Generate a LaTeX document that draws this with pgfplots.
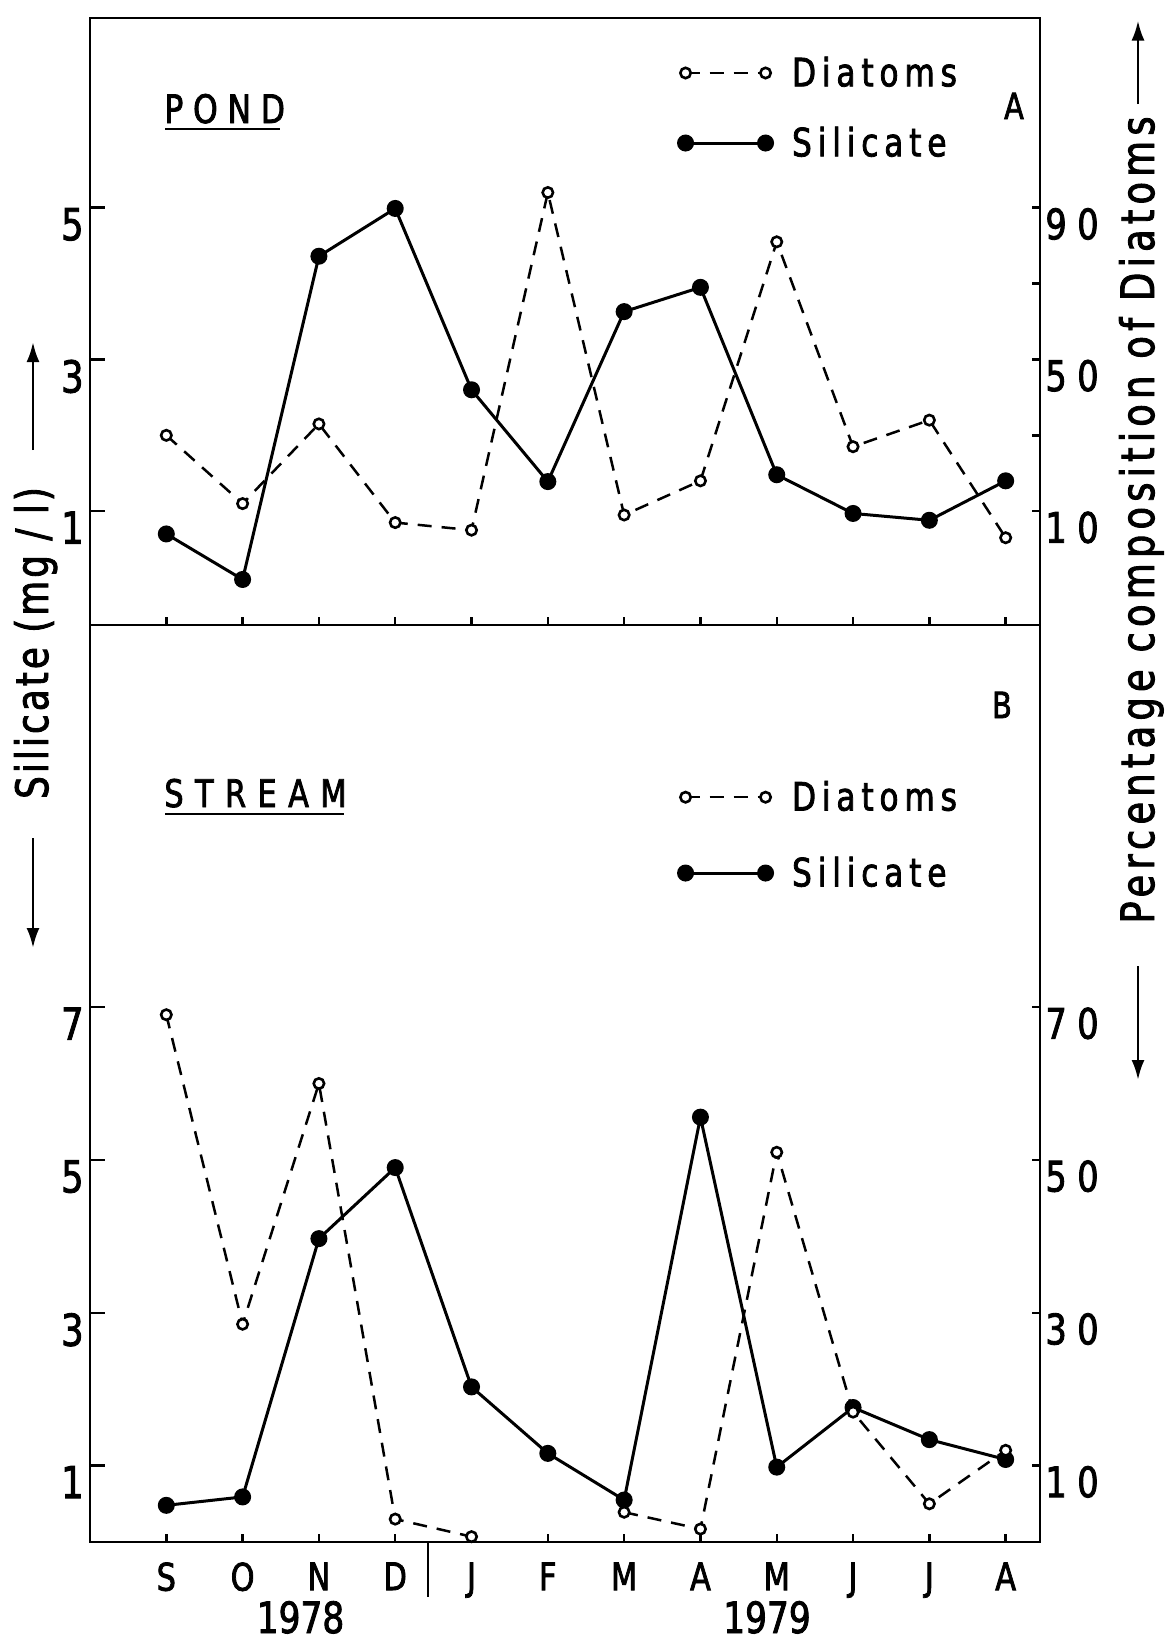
\documentclass[border=0pt]{standalone}
\usepackage{fontspec}
\usepackage{pgfplots}
\usepackage{pgfplotstable}
\pgfplotsset{compat=1.18}
\usetikzlibrary{arrows.meta}

\setmainfont{DejaVu Sans}[FakeStretch=0.8,FakeBold=2]
\newfontfamily\spaced{DejaVu Sans}[FakeStretch=0.8,FakeBold=2,LetterSpace=25]
\newfontfamily\legendfont{DejaVu Sans}[FakeStretch=0.8,FakeBold=2,LetterSpace=15]
\newfontfamily\labelfont{DejaVu Sans}[FakeStretch=0.8,FakeBold=2,LetterSpace=7]
\newfontfamily\widelabelfont{DejaVu Sans}[FakeStretch=0.8,FakeBold=2,LetterSpace=11.4]
\newfontfamily\stationfont{DejaVu Sans}[FakeStretch=0.8,FakeBold=2,LetterSpace=30]

% Pond (A): silicate in mg/l, diatoms in per cent of the phytoplankton
\pgfplotstableread{
m   sil   dia
0   0.70  30
1   0.10  12
2   4.36  33
3   4.99  7
4   2.60  5
5   1.39  94
6   3.63  9
7   3.95  18
8   1.48  81
9   0.97  27
10  0.88  34
11  1.40  3
}\pond

% Stream (B); no diatom count for February
\pgfplotstableread{
m   sil   dia
0   0.48  69
1   0.59  28.5
2   3.97  60
3   4.90  3
4   2.03  0.7
5   1.16  nan
6   0.55  3.9
7   5.56  1.7
8   0.98  51
9   1.76  17
10  1.34  5
11  1.08  12
}\stream

\pgfplotsset{
  panel/.style={scale only axis, width=475pt, xmin=-1, xmax=11.45,
    anchor=north west, clip=false,
    axis line style={line width=1.35pt},
    tick style={line width=1.25pt, black},
    tick align=inside},
  sil/.style={black, line width=1.5pt, solid, mark=*, mark size=3.75pt,
    mark options={solid, fill=black, line width=1pt}},
  dia/.style={black, line width=1.25pt, dash pattern=on 7pt off 5pt,
    mark=*, mark size=2.6pt,
    mark options={solid, fill=white, draw=black, line width=1.3pt}},
  leftticks/.style={ytick pos=left, yticklabel pos=left,
    major tick length=7.5pt,
    yticklabel style={anchor=north east, inner sep=0pt, xshift=-3pt,
      font=\fontsize{22}{22}\selectfont}},
  rightticks/.style={ytick pos=right, yticklabel pos=right,
    major tick length=4pt,
    yticklabel style={anchor=north west, inner sep=0pt, xshift=2.5pt,
      font=\spaced\fontsize{21}{21}\selectfont}},
  pairlegend/.style={legend style={draw=none, fill=none, inner sep=0pt,
      outer sep=0pt, anchor=north west,
      font=\legendfont\fontsize{19.5}{19.5}\selectfont,
      cells={anchor=west}, nodes={inner sep=0pt}},
    legend image code/.code={%
      \draw[##1] plot coordinates {(0pt,0pt) (40pt,0pt)};
      \path (52.5pt,0pt);}},
}

\begin{document}
\begin{tikzpicture}
\useasboundingbox (0,0) rectangle (585pt,-822pt);

% ---------- A: pond ----------
\begin{axis}[panel, at={(45pt,-9pt)}, height=303.5pt,
  ymin=-0.5, ymax=7.5, xtick=\empty,
  ytick={1,3,5}, yticklabels={1,3,5}, leftticks]
\addplot[sil] table[x=m, y=sil] {\pond};
\end{axis}
\begin{axis}[panel, at={(45pt,-9pt)}, height=303.5pt,
  ymin=-20, ymax=140,
  xtick={0,...,11}, xticklabels=\empty, xtick pos=bottom,
  ytick={10,30,50,70,90}, yticklabels={10,,50,,90}, rightticks,
  pairlegend, legend style={at={(0.619,0.9363)}, row sep=18.7pt}]
\addplot[dia] table[x=m, y=dia] {\pond};
\addlegendentry{Diatoms}
\addlegendimage{sil}
\addlegendentry{Silicate}
\end{axis}

% ---------- B: stream ----------
\begin{axis}[panel, at={(45pt,-312.5pt)}, height=458.5pt,
  ymin=0, ymax=12, xtick=\empty,
  ytick={1,3,5,7}, yticklabels={1,3,5,7}, leftticks]
\addplot[sil] table[x=m, y=sil] {\stream};
\end{axis}
\begin{axis}[panel, at={(45pt,-312.5pt)}, height=458.5pt,
  ymin=0, ymax=120, unbounded coords=jump,
  xtick={0,...,11}, xtick pos=bottom,
  xticklabels={S,O,N,D,J,F,M,A,M,J,J,A},
  xticklabel style={anchor=north, inner sep=0pt, yshift=-10pt,
    font=\fontsize{19}{19}\selectfont},
  ytick={10,30,50,70}, yticklabels={10,30,50,70}, rightticks,
  pairlegend, legend style={at={(0.619,0.83)}, row sep=21.6pt}]
\addplot[dia] table[x=m, y=dia] {\stream};
\addlegendentry{Diatoms}
\addlegendimage{sil}
\addlegendentry{Silicate}
\end{axis}

% ---------- lettering ----------
\begin{scope}[x=0.5pt, y=-0.5pt]
  % panel names
  \node[anchor=base west, inner sep=0pt] at (164,123)
    {\spaced\fontsize{19.6}{19.6}\selectfont POND};
  \draw[line width=1.4pt] (165,129) -- (280,129);
  \node[anchor=base west, inner sep=0pt] at (164,807)
    {\stationfont\fontsize{19}{19}\selectfont STREAM};
  \draw[line width=1.4pt] (165,814) -- (344,814);
  \node[anchor=base, inner sep=0pt] at (1014,119)
    {\fontsize{18}{18}\selectfont A};
  \node[anchor=base, inner sep=0pt] at (1002,718)
    {\fontsize{18}{18}\selectfont B};

  % years under the months
  \draw[line width=1.3pt] (428,1542) -- (428,1597);
  \node[anchor=base, inner sep=0pt] at (300.5,1633)
    {\fontsize{21.5}{21.5}\selectfont 1978};
  \node[anchor=base, inner sep=0pt] at (767,1633)
    {\fontsize{21.5}{21.5}\selectfont 1979};

  % left axis title with its arrows
  \node[rotate=90, anchor=base, inner sep=0pt] at (48,643)
    {\labelfont\fontsize{22.3}{22.3}\selectfont Silicate (mg / l)};
  \draw[line width=1.4pt, -{Latex[length=10pt,width=6.5pt]}] (33,450) -- (33,342);
  \draw[line width=1.4pt, -{Latex[length=10pt,width=6.5pt]}] (33,838) -- (33,948);

  % right axis title with its arrows
  \node[rotate=90, anchor=base, inner sep=0pt] at (1154,520)
    {\widelabelfont\fontsize{23}{23}\selectfont Percentage composition of Diatoms};
  \draw[line width=1.4pt, -{Latex[length=10pt,width=6.5pt]}] (1138,104) -- (1138,20.5);
  \draw[line width=1.4pt, -{Latex[length=10pt,width=6.5pt]}] (1138,966) -- (1138,1080);
\end{scope}
\end{tikzpicture}
\end{document}
